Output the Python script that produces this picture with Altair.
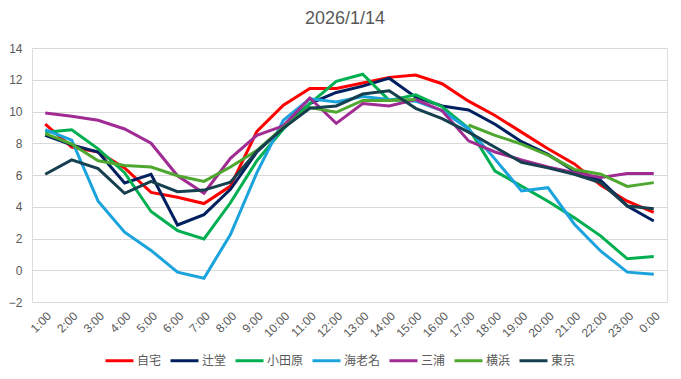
import altair as alt
import pandas as pd

hours = ["1:00", "2:00", "3:00", "4:00", "5:00", "6:00", "7:00", "8:00",
         "9:00", "10:00", "11:00", "12:00", "13:00", "14:00", "15:00", "16:00",
         "17:00", "18:00", "19:00", "20:00", "21:00", "22:00", "23:00", "0:00"]

series_names = ["自宅", "辻堂", "小田原", "海老名", "三浦", "横浜", "東京"]
series_colors = ["#FF0000", "#002060", "#00B050", "#1AA3DD", "#A02B93", "#4EA72E", "#163F4F"]

jitaku = [9.2, 7.75, 7.45, 6.45, 4.9, 4.6, 4.2, 5.3, 8.75, 10.4, 11.45, 11.45,
          11.8, 12.15, 12.3, 11.75, 10.65, 9.75, 8.7, 7.65, 6.7, 5.35, 4.35, 3.65]
tsujido = [8.5, 7.9, 7.45, 5.5, 6.05, 2.85, 3.5, 5.1, 7.45, 9.0, 10.5, 11.2,
           11.6, 12.1, 10.9, 10.35, 10.1, 9.2, 8.1, 7.3, 6.25, 5.65, 4.05, 3.1]
odawara = [8.7, 8.85, 7.65, 6.15, 3.7, 2.5, 1.97, 4.25, 6.9, 8.9, 10.5, 11.9,
           12.35, 10.7, 11.05, 10.3, 8.95, 6.25, 5.3, 4.35, 3.3, 2.15, 0.72, 0.87]
ebina = [8.85, 8.2, 4.35, 2.4, 1.25, -0.12, -0.5, 2.25, 6.15, 9.45, 10.8, 10.6,
         10.95, 10.75, 10.65, 10.05, 8.9, 7.0, 5.0, 5.2, 2.9, 1.2, -0.12, -0.25]
miura = [9.9, 9.7, 9.45, 8.9, 8.0, 5.95, 4.85, 7.05, 8.5, 9.1, 10.85, 9.25,
         10.5, 10.35, 10.75, 10.05, 8.15, 7.45, 6.95, 6.5, 6.15, 5.85, 6.1, 6.1]
yokohama = [8.6, 7.95, 6.9, 6.6, 6.5, 5.95, 5.6, 6.5, 7.55, 9.0, 10.25, 9.95,
            10.7, 10.7, 10.75, None, 9.15, 8.5, 7.95, 7.25, 6.35, 6.05, 5.28, 5.52]
tokyo = [6.05, 6.95, 6.4, 4.85, 5.6, 4.95, 5.05, 5.55, 7.5, 8.95, 10.2, 10.35,
         11.1, 11.3, 10.2, 9.55, 8.7, 7.75, 6.8, 6.45, 6.05, 5.5, 4.05, 3.87]

chart_title = "2026/1/14"

all_series = [jitaku, tsujido, odawara, ebina, miura, yokohama, tokyo]

rows = []
for name, vals in zip(series_names, all_series):
    for h, v in zip(hours, vals):
        rows.append({"hour": h, "series": name, "temp": v})
df = pd.DataFrame(rows)

lines = alt.Chart(df).mark_line(
    strokeWidth=3, invalid="break-paths-show-domains"
).encode(
    x=alt.X("hour:O", sort=hours, scale=alt.Scale(padding=0.5),
            axis=alt.Axis(title=None, labelAngle=-45, labelFontSize=12,
                          labelColor="#595959", labelFont="Liberation Sans",
                          ticks=False, domain=False, grid=False, labelPadding=8)),
    y=alt.Y("temp:Q", scale=alt.Scale(domain=[-2, 14], nice=False, zero=False),
            axis=alt.Axis(title=None, values=list(range(-2, 15, 2)), labelFontSize=12,
                          labelColor="#595959", labelFont="Liberation Sans",
                          ticks=False, domain=False, gridColor="#d9d9d9",
                          labelPadding=10)),
    color=alt.Color("series:N",
                    scale=alt.Scale(domain=series_names, range=series_colors),
                    legend=alt.Legend(title=None, orient="none", direction="horizontal",
                                      legendX=72, legendY=297,
                                      symbolType="stroke", symbolSize=784,
                                      symbolStrokeWidth=3, labelFontSize=12,
                                      labelFont="Noto Sans CJK JP", labelColor="#595959",
                                      columnPadding=2, labelOffset=2)),
    order=alt.Order("series_order:Q"),
).transform_calculate(
    series_order="indexof(" + str(series_names).replace("'", '"') + ", datum.series)"
)

title_df = pd.DataFrame({"label": [chart_title]})
title_text = alt.Chart(title_df).mark_text(
    font="Liberation Sans", fontSize=18, color="#595959", align="center",
    baseline="alphabetic"
).encode(
    text="label:N",
    x=alt.value(313),
    y=alt.value(-24),
)

chart = alt.layer(lines, title_text).properties(
    width=635,
    height=254,
    padding={"left": 24, "top": 40, "right": 6, "bottom": 69},
    autosize=alt.AutoSizeParams(type="none"),
).configure_view(stroke=None).configure(background="white")

chart.save("out.html", embed_options={"renderer": "svg", "actions": False})
